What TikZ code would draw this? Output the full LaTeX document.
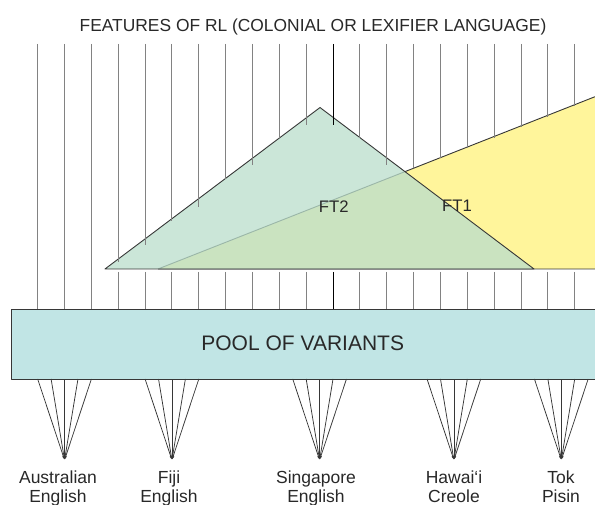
\documentclass[tikz,border=0pt]{standalone}
\usepackage{fontspec}
\setmainfont{Liberation Sans}
\usetikzlibrary{arrows.meta}

\definecolor{featgrey}{RGB}{130,130,130}
\definecolor{edgegrey}{RGB}{55,55,55}
\definecolor{inkgrey}{RGB}{40,40,40}
\definecolor{ftyellow}{RGB}{255,245,155}
\definecolor{ftgreen}{RGB}{186,222,204}
\definecolor{poolcyan}{RGB}{193,229,229}

\begin{document}
\begin{tikzpicture}[x=1pt, y=-1pt,
  feature/.style={draw=featgrey, line width=1pt},
  keyfeature/.style={draw=black, line width=0.7pt},
  outline/.style={draw=edgegrey, line width=0.9pt, line join=round},
  fan/.style={draw=edgegrey, line width=0.75pt, -{Latex[length=4pt, width=2.4pt]}},
  label/.style={inner sep=0pt, text=inkgrey, anchor=base},
  variety/.style={label, align=center, font=\fontsize{17.5}{19}\selectfont}]
\clip (0,0) rectangle (595,505);

\node[label, font=\fontsize{17.4}{20}\selectfont] (rl) at (313,31.5) {FEATURES OF RL (COLONIAL OR LEXIFIER LANGUAGE)};

% the two feature triangles
\path (158,269) coordinate (y1)
      (595,96.7) coordinate (y2)
      (600,269) coordinate (y3)
      (105,269) coordinate (g1)
      (320,107.5) coordinate (g2)
      (534,269) coordinate (g3);
\fill[ftyellow] (y1) -- (y2) -- (610,92.7) -- (610,269) -- cycle;
\draw[outline] (y1) -- (y2) (y1) -- (y3);
\fill[ftgreen, opacity=0.76] (g1) -- (g2) -- (g3) -- cycle;
\draw[outline] (g1) -- (g2) -- (g3) -- cycle;

% features coming down from RL
\foreach \i/\e in {0/309.5, 1/309.5, 2/309.5, 3/262, 4/245, 5/221, 6/207,
                   7/179, 8/165, 9/138, 10/125, 12/138, 13/165, 14/168,
                   15/158, 16/148, 17/138, 18/127, 19/117, 20/106} {
  \coordinate (f\i) at (37.7+26.85*\i, 44);
  \coordinate (e\i) at (37.7+26.85*\i, \e);
  \draw[feature] (f\i) -- (e\i);
}
\foreach \i in {3,...,10,12,13,...,20} {
  \coordinate (b\i) at (37.7+26.85*\i, 272);
  \coordinate (p\i) at (37.7+26.85*\i, 309.5);
  \draw[feature] (b\i) -- (p\i);
}
\path (333.05,44) coordinate (f11) (333.05,125) coordinate (e11)
      (333.05,272) coordinate (b11) (333.05,309.5) coordinate (p11);
\draw[keyfeature] (f11) -- (e11) (b11) -- (p11);

\node[label, font=\fontsize{16.7}{18}\selectfont] (ft2) at (333.7,212.5) {FT2};
\node[label, font=\fontsize{16.7}{18}\selectfont] (ft1) at (457,211.5) {FT1};

% pool of variants
\draw[outline, fill=poolcyan] (11,309.5) rectangle (620,379);
\node[label, font=\fontsize{21}{24}\selectfont] (pool) at (302.7,350.5) {POOL OF VARIANTS};

% the varieties
\foreach \n/\c in {aus/64.55, fiji/171.95, sing/319.6, haw/453.9, tok/561.3} {
  \coordinate (\n) at (\c, 460);
  \foreach \k in {-2,...,2}
    \draw[fan] (\c+13.43*\k, 379) -- (\n);
}

\node[variety] (ausname) at (58,502.5) {Australian\\English};
\node[variety] (fijiname) at (169,502.5) {Fiji\\English};
\node[variety] (singname) at (316,502.5) {Singapore\\English};
\node[variety] (hawname) at (454,502.5) {Hawai‘i\\Creole};
\node[variety] (tokname) at (561,502.5) {Tok\\Pisin};
\end{tikzpicture}
\end{document}
